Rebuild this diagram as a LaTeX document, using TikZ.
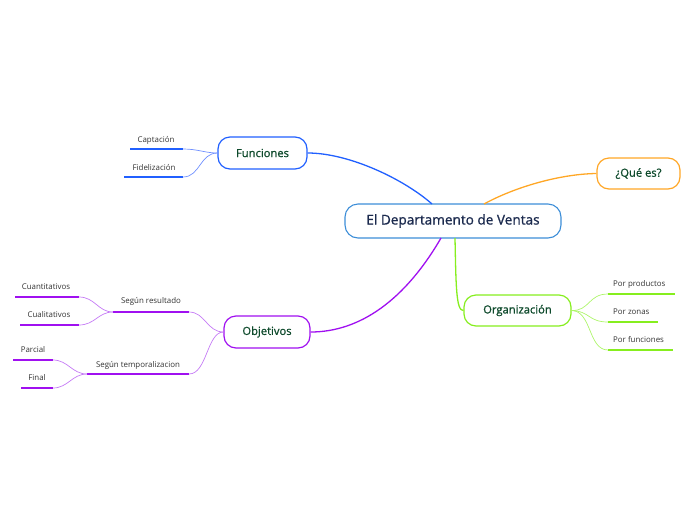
\documentclass[tikz,border=0pt]{standalone}
\usepackage{fontspec}
\setmainfont{Open Sans}
\newfontfamily\medfont{Open Sans}[FakeBold=0.9]
\definecolor{cblue}{HTML}{3D8ED8}
\definecolor{ctext}{HTML}{1B2A4E}
\definecolor{ntext}{HTML}{0E4A2C}
\definecolor{fblue}{HTML}{2160FF}
\definecolor{fblueL}{HTML}{7090FF}
\definecolor{corange}{HTML}{FFA726}
\definecolor{clime}{HTML}{86EE1E}
\definecolor{climeL}{HTML}{ADF56A}
\definecolor{cpurp}{HTML}{A010F0}
\definecolor{cpurpL}{HTML}{C57AF5}
\definecolor{ltext}{HTML}{333333}
\tikzset{
  topic/.style={draw, line width=1.2pt, rounded corners=12pt, fill=white, text=ntext, font=\medfont\fontsize{11.2}{13}\selectfont, inner sep=0pt},
  leaf/.style={text=ltext, font=\fontsize{7.9}{9}\selectfont, inner sep=0pt, anchor=base},
  branch/.style={line width=1.3pt},
  twig/.style={line width=0.7pt},
  uline/.style={line width=2.2pt}
}
\begin{document}
\begin{tikzpicture}[x=1pt,y=-1pt]
\useasboundingbox (0,0) rectangle (696,520);
% central
\node[draw=cblue, line width=1.1pt, rounded corners=13pt, fill=white, text=ctext, font=\medfont\fontsize{13.6}{16}\selectfont, minimum width=216pt, minimum height=34pt, inner sep=0pt] (c) at (453,221) {El Departamento de Ventas};
% topics
\node[topic, draw=fblue, minimum width=89pt, minimum height=32pt] (fun) at (262.5,153) {Funciones};
\node[topic, draw=corange, minimum width=83pt, minimum height=31pt] (que) at (638.5,173.5) {¿Qué es?};
\node[topic, draw=clime, minimum width=107pt, minimum height=31pt] (org) at (517.5,310.5) {Organización};
\node[topic, draw=cpurp, minimum width=86pt, minimum height=32pt] (obj) at (267,332) {Objetivos};
% main branches
\coordinate (cf) at (432,204);
\coordinate (cq) at (484,204);
\coordinate (co) at (455,238);
\coordinate (cb) at (441,238);
\draw[branch, fblue] (cf) .. controls (405,180) and (350,153) .. (fun.east);
\draw[branch, corange] (cq) .. controls (515,187) and (560,174) .. (que.west);
\draw[branch, clime] (co) .. controls (456,285) and (456,311) .. (org.west);
\draw[branch, cpurp] (cb) .. controls (405,300) and (360,332) .. (obj.east);
% Funciones leaves
\node[leaf] (cap) at (156,142) {Captación};
\coordinate (capL) at (130,149); \coordinate (capR) at (183,149);
\node[leaf] (fid) at (154,170) {Fidelización};
\coordinate (fidL) at (124,177); \coordinate (fidR) at (183,177);
\draw[uline, fblue] (capL) -- (capR);
\draw[uline, fblue] (fidL) -- (fidR);
\draw[twig, fblueL] (fun.west) .. controls (205,153) and (198,149) .. (capR);
\draw[twig, fblueL] (fun.west) .. controls (200,153) and (200,177) .. (fidR);
% Organizacion leaves
\node[leaf, anchor=base west] (pp) at (613,286) {Por productos};
\coordinate (ppL) at (608,294); \coordinate (ppR) at (675,294);
\node[leaf, anchor=base west] (pz) at (613,314) {Por zonas};
\coordinate (pzL) at (608,322); \coordinate (pzR) at (658,322);
\node[leaf, anchor=base west] (pf) at (613,342) {Por funciones};
\coordinate (pfL) at (608,350); \coordinate (pfR) at (673,350);
\draw[uline, clime] (ppL) -- (ppR);
\draw[uline, clime] (pzL) -- (pzR);
\draw[uline, clime] (pfL) -- (pfR);
\draw[twig, climeL] (org.east) .. controls (590,311) and (588,294) .. (ppL);
\draw[twig, climeL] (org.east) .. controls (590,311) and (588,322) .. (pzL);
\draw[twig, climeL] (org.east) .. controls (592,311) and (588,350) .. (pfL);
% Objetivos branches
\node[leaf] (sr) at (151,303) {Según resultado};
\coordinate (srL) at (113,312); \coordinate (srR) at (189,312);
\node[leaf] (st) at (138,367) {Según temporalizacion};
\coordinate (stL) at (87,374); \coordinate (stR) at (189,374);
\draw[uline, cpurp] (srL) -- (srR);
\draw[uline, cpurp] (stL) -- (stR);
\draw[twig, cpurpL] (obj.west) .. controls (207,332) and (205,312) .. (srR);
\draw[twig, cpurpL] (obj.west) .. controls (207,332) and (207,374) .. (stR);
% Segun resultado leaves
\node[leaf] (cua) at (46,289) {Cuantitativos};
\coordinate (cuaL) at (15,297); \coordinate (cuaR) at (79,297);
\node[leaf] (cul) at (49,317) {Cualitativos};
\coordinate (culL) at (20,325); \coordinate (culR) at (79,325);
\draw[uline, cpurp] (cuaL) -- (cuaR);
\draw[uline, cpurp] (culL) -- (culR);
\draw[twig, cpurpL] (srL) .. controls (98,312) and (95,297) .. (cuaR);
\draw[twig, cpurpL] (srL) .. controls (98,312) and (95,325) .. (culR);
% Segun temporalizacion leaves
\node[leaf] (par) at (33,352) {Parcial};
\coordinate (parL) at (13,360); \coordinate (parR) at (53,360);
\node[leaf] (fin) at (37,380) {Final};
\coordinate (finL) at (21,388); \coordinate (finR) at (53,388);
\draw[uline, cpurp] (parL) -- (parR);
\draw[uline, cpurp] (finL) -- (finR);
\draw[twig, cpurpL] (stL) .. controls (72,374) and (68,360) .. (parR);
\draw[twig, cpurpL] (stL) .. controls (72,374) and (68,388) .. (finR);
\end{tikzpicture}
\end{document}
